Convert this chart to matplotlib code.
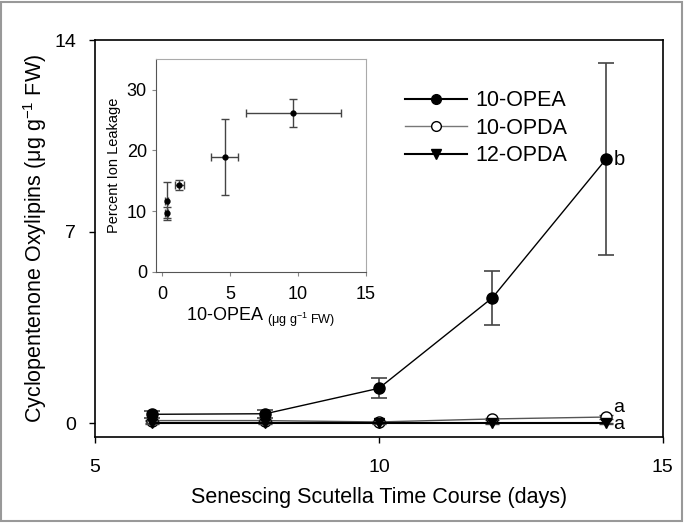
import numpy as np
import matplotlib
matplotlib.use('Agg')
import matplotlib.pyplot as plt
from matplotlib.patches import Rectangle
from matplotlib.lines import Line2D

plt.rcParams['font.family'] = ['Liberation Sans', 'DejaVu Sans']
plt.rcParams['mathtext.fontset'] = 'custom'
plt.rcParams['mathtext.rm'] = 'Liberation Sans'
plt.rcParams['mathtext.it'] = 'Liberation Sans:italic'

# main panel: oxylipins over the time course
days = [6, 8, 10, 12, 14]
opea = [0.33, 0.35, 1.28, 4.59, 9.65]
opeaErr = [0.12, 0.15, 0.37, 0.98, 3.5]
opda10 = [0.1, 0.1, 0.05, 0.16, 0.23]
opda10Err = [0.02, 0.02, 0.03, 0.05, 0.06]
opda12 = [0.0, 0.0, 0.0, 0.0, 0.0]
opda12Err = [0.01, 0.01, 0.01, 0.01, 0.01]

# inset: ion leakage vs 10-OPEA
insetX = [0.33, 0.35, 1.28, 4.6, 9.66]
insetXErr = [0.1, 0.12, 0.35, 1.0, 3.5]
insetY = [9.7, 11.7, 14.3, 18.9, 26.2]
insetYErr = [0.9, 3.1, 0.9, 6.2, 2.3]

fig = plt.figure(figsize=(6.84, 5.23), dpi=100)
ax = fig.add_axes([0.139, 0.1644, 0.830, 0.759])

ax.errorbar(days, opda10, yerr=opda10Err, color='#555555', marker='o', markersize=8,
            markerfacecolor='white', markeredgecolor='black', linewidth=1,
            ecolor='#444444', capsize=5, zorder=3)
ax.errorbar(days, opda12, yerr=opda12Err, color='black', marker='v', markersize=7.5,
            linewidth=1.5, ecolor='#444444', capsize=5, zorder=4)
ax.errorbar(days, opea, yerr=opeaErr, color='black', marker='o', markersize=8,
            linewidth=1, ecolor='#444444', elinewidth=1.2, capsize=6, capthick=1.2,
            zorder=5)

# significance letters
ax.text(14.13, opea[-1], 'b', fontsize=14.5, va='center', ha='left')
ax.text(14.13, 0.56, 'a', fontsize=14, va='center', ha='left')
ax.text(14.13, -0.06, 'a', fontsize=14, va='center', ha='left')

ax.set_xlim(5, 15)
ax.set_ylim(-0.5, 14)
ax.set_xticks([5, 10, 15])
ax.set_yticks([0, 7, 14])
ax.tick_params(axis='both', labelsize=14, direction='out', length=4.5, width=1)
ax.tick_params(axis='x', pad=11)
ax.tick_params(axis='y', pad=9)
ax.set_xlabel('Senescing Scutella Time Course (days)', fontsize=15.5, labelpad=8)
ax.set_ylabel(r'Cyclopentenone Oxylipins ($\mathrm{\mu}$g g$^{-1}$ FW)', fontsize=15.5, labelpad=4)
for s in ax.spines.values():
    s.set_linewidth(1.2)

handles = [
    Line2D([], [], color='black', marker='o', markersize=7, linewidth=1.5),
    Line2D([], [], color='#777777', marker='o', markersize=7, markerfacecolor='white',
           markeredgecolor='black', linewidth=1),
    Line2D([], [], color='black', marker='v', markersize=7, linewidth=1.5),
]
ax.legend(handles, ['10-OPEA', '10-OPDA', '12-OPDA'], loc='upper left',
          bbox_to_anchor=(0.53, 0.895), frameon=False, fontsize=15.5,
          handlelength=2.9, handletextpad=0.4, labelspacing=0.3, borderaxespad=0)

# inset
ins = fig.add_axes([0.228, 0.48, 0.307, 0.407])
ins.errorbar(insetX, insetY, xerr=insetXErr, yerr=insetYErr, fmt='o', color='black',
             markersize=3.5, ecolor='#444444', elinewidth=1, capsize=3)
ins.set_xlim(-0.45, 15)
ins.set_ylim(0, 35)
ins.set_xticks([0, 5, 10, 15])
ins.set_yticks([0, 10, 20, 30])
ins.tick_params(axis='both', labelsize=13, direction='out', length=3, color='#888888')
ins.tick_params(axis='x', pad=7)
ins.set_ylabel('Percent Ion Leakage', fontsize=10.5)
ins.set_xlabel(r'10-OPEA $\mathregular{{}_{(\mu g\ g^{-1}\ FW)}}$', fontsize=13, labelpad=2)
ins.spines['left'].set_color('#555555')
ins.spines['bottom'].set_color('#555555')
ins.spines['top'].set_color('#aaaaaa')
ins.spines['right'].set_color('#aaaaaa')

# grey outer frame
fig.patches.append(Rectangle((0.002, 0.003), 0.995, 0.994, transform=fig.transFigure,
                             fill=False, edgecolor='#999999', linewidth=1.5))

fig.savefig('out.png', dpi=100)
